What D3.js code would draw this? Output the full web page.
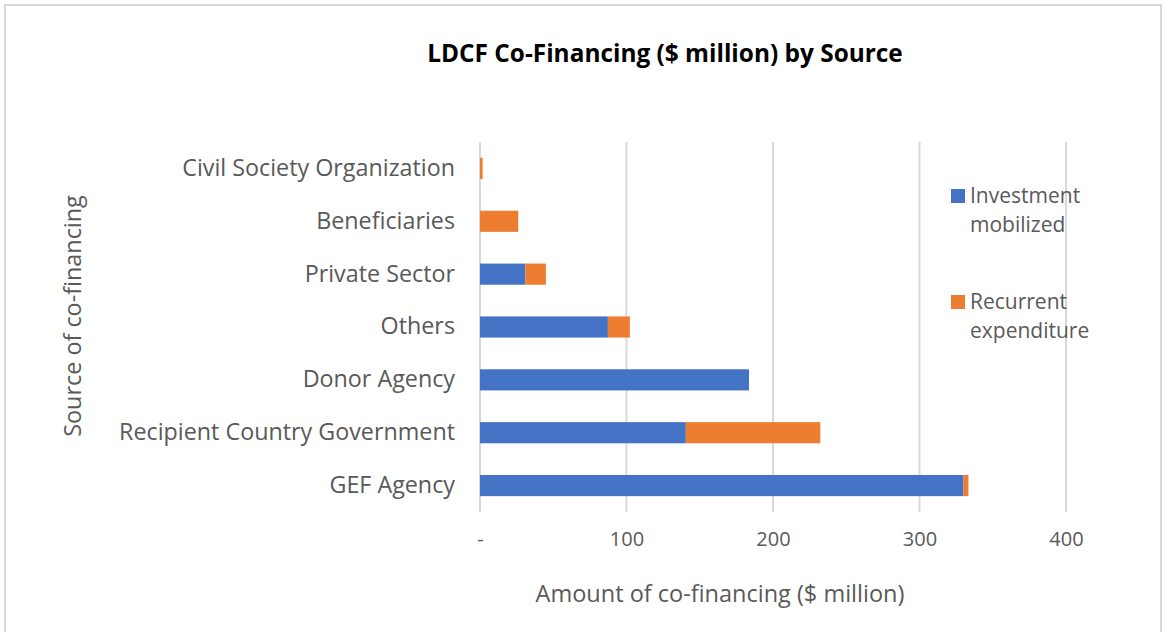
<!DOCTYPE html>
<html>
<head>
<meta charset="utf-8">
<script src="https://cdn.jsdelivr.net/npm/d3@7"></script>
<style>
  body { margin: 0; background: #fff; }
  text { font-family: "Open Sans", sans-serif; }
</style>
</head>
<body>
<div id="chart"></div>
<script>
// Categories, bottom to top as drawn
const sources = ["GEF Agency", "Recipient Country Government", "Donor Agency", "Others",
                 "Private Sector", "Beneficiaries", "Civil Society Organization"];
const investment = [330, 140.5, 183.6, 87.3, 30.9, 0, 0];
const recurrent = [3.4, 91.8, 0, 15, 14.1, 26.1, 1.8];
const seriesNames = ["Investment\nmobilized", "Recurrent\nexpenditure"];
const xTicks = [0, 100, 200, 300, 400];

const W = 1164, H = 632;
const plot = { left: 480, right: 1066, top: 142, bottom: 512 };
const font = "'Open Sans', sans-serif";

const svg = d3.select("#chart").append("svg")
    .attr("width", W).attr("height", H);

// outer frame
svg.append("rect")
    .attr("x", 5).attr("y", 5)
    .attr("width", W - 8).attr("height", H - 4)
    .attr("fill", "#fff").attr("stroke", "#d9d9d9").attr("stroke-width", 2);

const x = d3.scaleLinear([0, 400], [plot.left, plot.right]);
const y = d3.scaleBand(sources.slice().reverse(), [plot.top, plot.bottom]).paddingInner(0.6).paddingOuter(0.3);

// gridlines
svg.append("g")
    .selectAll("line")
    .data(xTicks)
    .join("line")
    .attr("x1", d => x(d)).attr("x2", d => x(d))
    .attr("y1", plot.top).attr("y2", plot.bottom)
    .attr("stroke", "#d9d9d9").attr("stroke-width", 2);

// stacked bars
const rows = sources.map((s, i) => ({ source: s, investment: investment[i], recurrent: recurrent[i] }));
const stack = d3.stack().keys(["investment", "recurrent"])(rows);
const colors = ["#4472C4", "#ED7D31"];

svg.append("g")
    .selectAll("g")
    .data(stack)
    .join("g")
    .attr("fill", (d, i) => colors[i])
    .selectAll("rect")
    .data(d => d.filter(p => p[1] > p[0]))
    .join("rect")
    .attr("x", d => x(d[0]))
    .attr("width", d => x(d[1]) - x(d[0]))
    .attr("y", d => y(d.data.source))
    .attr("height", y.bandwidth());

// x axis tick labels
const xAxis = svg.append("g")
    .attr("transform", `translate(0, ${plot.bottom})`)
    .call(d3.axisBottom(x).tickValues(xTicks).tickSize(0).tickPadding(20)
        .tickFormat(d => d === 0 ? "-" : d));
xAxis.select(".domain").remove();
xAxis.selectAll("text").attr("fill", "#595959").style("font-size", "20px")
    .style("font-family", font);

// y axis category labels
const yAxis = svg.append("g")
    .attr("transform", `translate(${plot.left}, 0)`)
    .call(d3.axisLeft(y).tickSize(0).tickPadding(25));
yAxis.select(".domain").remove();
yAxis.selectAll("text").attr("fill", "#595959").style("font-size", "23.3px")
    .style("font-family", font);

// title
svg.append("text")
    .attr("x", 665).attr("y", 62)
    .attr("text-anchor", "middle")
    .style("font-size", "24.4px").style("font-weight", "bold")
    .attr("fill", "#000")
    .text("LDCF Co-Financing ($ million) by Source");

// axis titles
svg.append("text")
    .attr("x", 720).attr("y", 602)
    .attr("text-anchor", "middle")
    .style("font-size", "23.5px").attr("fill", "#595959")
    .text("Amount of co-financing ($ million)");

svg.append("text")
    .attr("transform", "translate(81, 316) rotate(-90)")
    .attr("text-anchor", "middle")
    .style("font-size", "23.4px").attr("fill", "#595959")
    .text("Source of co-financing");

// legend
const legend = svg.append("g")
    .selectAll("g")
    .data(seriesNames)
    .join("g")
    .attr("transform", (d, i) => `translate(951, ${189 + i * 106})`);

legend.append("rect")
    .attr("width", 14).attr("height", 14)
    .attr("fill", (d, i) => colors[i]);

legend.append("text")
    .attr("x", 19)
    .style("font-size", "21px").attr("fill", "#595959")
    .selectAll("tspan")
    .data(d => d.split("\n"))
    .join("tspan")
    .attr("x", 19)
    .attr("y", (d, i) => 14 + i * 29)
    .text(d => d);
</script>
</body>
</html>
